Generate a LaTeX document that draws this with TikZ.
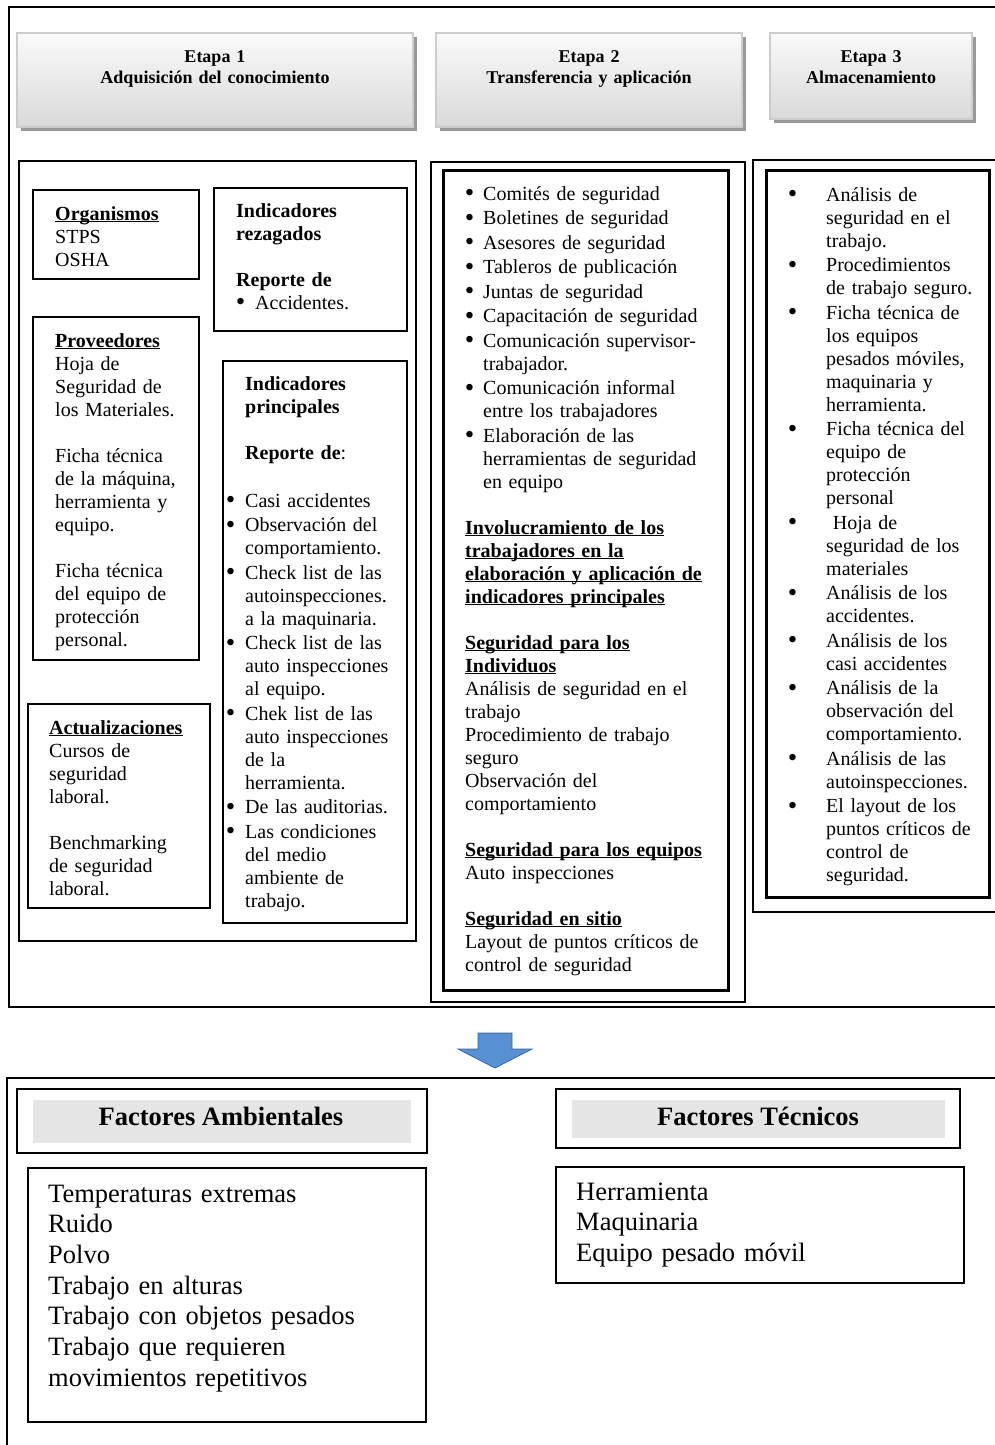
\documentclass[tikz,border=0pt]{standalone}
\usepackage{fontspec}
\setmainfont{Liberation Serif}
\usetikzlibrary{shadows}
\definecolor{arrowfill}{RGB}{88,144,212}
\definecolor{arrowline}{RGB}{58,100,160}
\newcommand\bodyf{\fontsize{20}{23}\selectfont}
\newcommand\headf{\fontsize{18}{20.5}\selectfont\bfseries}
\newcommand\bigf{\fontsize{26.5}{30.7}\selectfont}
\newcommand\myul[1]{\leavevmode\sbox0{#1}\rlap{\rule[-2.4pt]{\wd0}{1.1pt}}\usebox0}
\newcommand\mybu[1][10pt]{\leavevmode\llap{\raisebox{-1.8pt}{\scalebox{1.35}{\textbullet}}\hspace*{#1}}}
\begin{document}
\begin{tikzpicture}[x=1pt,y=-1pt,
  frame/.style={line width=1.8pt, draw=black},
  bx/.style={draw=black, line width=2.2pt, anchor=north west, inner sep=0pt, outer sep=0pt},
  thickbx/.style={bx, line width=3pt},
  outerbx/.style={bx, line width=1.6pt},
  thinbx/.style={bx, line width=1.3pt},
  hbox/.style={anchor=north west, inner sep=0pt, outer sep=0pt, draw=gray!40, line width=1.5pt,
    top color=gray!4, bottom color=gray!30,
    drop shadow={shadow xshift=4pt, shadow yshift=-4pt, fill=black!40, opacity=1}},
  headtxt/.style={anchor=base, inner sep=0pt, align=center, text width=#1, font=\headf},
  txt/.style={anchor=base west, inner sep=0pt, text width=300pt, align=left, font=\bodyf},
  bigtxt/.style={anchor=base west, inner sep=0pt, text width=400pt, align=left, font=\bigf},
  graybar/.style={anchor=north west, inner sep=0pt, outer sep=0pt, fill=black!10},
  bigtitle/.style={anchor=base, inner sep=0pt, font=\bigf\bfseries}]
\useasboundingbox (0,0) rectangle (995,1445);
\fill[white] (0,0) rectangle (995,1445);
\clip (0,0) rectangle (995,1445);

% ---------- top frame ----------
\draw[frame] (1000,7) -- (9,7) -- (9,1007) -- (1000,1007);

% ---------- stage headers ----------
\node[hbox, minimum width=396pt, minimum height=94pt] (h1) at (17,33) {};
\node[hbox, minimum width=306pt, minimum height=94pt] (h2) at (436,33) {};
\node[hbox, minimum width=202pt, minimum height=86pt] (h3) at (770,33) {};
\node[headtxt=390pt] (h1t) at (215,63) {Etapa 1\\Adquisición del conocimiento};
\node[headtxt=300pt] (h2t) at (589,63) {Etapa 2\\Transferencia y aplicación};
\node[headtxt=200pt] (h3t) at (871,63) {Etapa 3\\Almacenamiento};

% ---------- column 1 ----------
\node[outerbx, minimum width=397pt, minimum height=780pt] (c1) at (19,161) {};
\node[bx, minimum width=166pt, minimum height=89pt] (org) at (33,190) {};
\node[txt] (orgt) at (55,220) {\myul{\textbf{Organismos}}\\STPS\\OSHA};

\node[bx, minimum width=193pt, minimum height=143pt] (rez) at (214,188) {};
\node[txt] (rezt) at (236,217) {\textbf{Indicadores}\\\textbf{rezagados}\\[23pt]\textbf{Reporte de}};
\node[txt] (rezb) at (255,309) {\mybu Accidentes.};

\node[bx, minimum width=166pt, minimum height=343pt] (prov) at (33,317) {};
\node[txt] (provt) at (55,347) {\myul{\textbf{Proveedores}}\\Hoja de\\Seguridad de\\los Materiales.\\[23pt]
Ficha técnica\\de la máquina,\\herramienta y\\equipo.\\[23pt]
Ficha técnica\\del equipo de\\protección\\personal.};

\node[bx, minimum width=182pt, minimum height=204pt] (act) at (28,704) {};
\node[txt] (actt) at (49,734) {\myul{\textbf{Actualizaciones}}\\Cursos de\\seguridad\\laboral.\\[23pt]
Benchmarking\\de seguridad\\laboral.};

\node[bx, minimum width=184pt, minimum height=562pt] (pri) at (223,361) {};
\node[txt] (prit) at (245,390) {\textbf{Indicadores}\\\textbf{principales}\\[23pt]\textbf{Reporte de}:\\[25pt]
\mybu Casi accidentes\\[1.5pt]
\mybu Observación del\\comportamiento.\\[1.5pt]
\mybu Check list de las\\autoinspecciones.\\a la maquinaria.\\[1.5pt]
\mybu Check list de las\\auto inspecciones\\al equipo.\\[1.5pt]
\mybu Chek list de las\\auto inspecciones\\de la\\herramienta.\\[1.5pt]
\mybu De las auditorias.\\[1.5pt]
\mybu Las condiciones\\del medio\\ambiente de\\trabajo.};

% ---------- column 2 ----------
\node[outerbx, minimum width=314pt, minimum height=840pt] (c2) at (431,162) {};
\node[thickbx, minimum width=285pt, minimum height=820pt] (c2i) at (443,170) {};
\node[txt] (c2b) at (483,200) {\mybu[9pt]Comités de seguridad\\[1.5pt]
\mybu[9pt]Boletines de seguridad\\[1.5pt]
\mybu[9pt]Asesores de seguridad\\[1.5pt]
\mybu[9pt]Tableros de publicación\\[1.5pt]
\mybu[9pt]Juntas de seguridad\\[1.5pt]
\mybu[9pt]Capacitación de seguridad\\[1.5pt]
\mybu[9pt]Comunicación supervisor-\\trabajador.\\[1.5pt]
\mybu[9pt]Comunicación informal\\entre los trabajadores\\[1.5pt]
\mybu[9pt]Elaboración de las\\herramientas de seguridad\\en equipo};
\node[txt] (c2s) at (465,534) {\myul{\textbf{Involucramiento de los}}\\\myul{\textbf{trabajadores en la}}\\
\myul{\textbf{elaboración y aplicación de}}\\\myul{\textbf{indicadores principales}}\\[23pt]
\myul{\textbf{Seguridad para los}}\\\myul{\textbf{Individuos}}\\
Análisis de seguridad en el\\trabajo\\Procedimiento de trabajo\\seguro\\Observación del\\comportamiento\\[23pt]
\myul{\textbf{Seguridad para los equipos}}\\Auto inspecciones\\[23pt]
\myul{\textbf{Seguridad en sitio}}\\Layout de puntos críticos de\\control de seguridad};

% ---------- column 3 ----------
\node[outerbx, minimum width=260pt, minimum height=752pt] (c3) at (753,160) {};
\node[thickbx, minimum width=223pt, minimum height=727pt] (c3i) at (766,170) {};
\node[txt] (c3t) at (826,201) {\mybu[29pt]Análisis de\\seguridad en el\\trabajo.\\[1.5pt]
\mybu[29pt]Procedimientos\\de trabajo seguro.\\[1.5pt]
\mybu[29pt]Ficha técnica de\\los equipos\\pesados móviles,\\maquinaria y\\herramienta.\\[1.5pt]
\mybu[29pt]Ficha técnica del\\equipo de\\protección\\personal\\[1.5pt]
\mybu[29pt]\ Hoja de\\seguridad de los\\materiales\\[1.5pt]
\mybu[29pt]Análisis de los\\accidentes.\\[1.5pt]
\mybu[29pt]Análisis de los\\casi accidentes\\[1.5pt]
\mybu[29pt]Análisis de la\\observación del\\comportamiento.\\[1.5pt]
\mybu[29pt]Análisis de las\\autoinspecciones.\\[1.5pt]
\mybu[29pt]El layout de los\\puntos críticos de\\control de\\seguridad.};

% ---------- block arrow ----------
\coordinate (arrtop) at (495,1033);
\filldraw[fill=arrowfill, draw=arrowline, line width=0.8pt, line join=miter]
  (478,1033) -- (512,1033) -- (512,1049) -- (532,1049) -- (495,1068) -- (458,1049) -- (478,1049) -- cycle;

% ---------- bottom frame ----------
\draw[frame] (1000,1078) -- (7,1078) -- (7,1450);

\node[thinbx, line width=1.5pt, minimum width=410pt, minimum height=64pt] (fa) at (17,1089) {};
\node[graybar, minimum width=378pt, minimum height=43pt] (fabar) at (33,1100) {};
\node[bigtitle] (fat) at (221,1125) {Factores Ambientales};
\node[thinbx, minimum width=398pt, minimum height=254pt] (fab) at (28,1168) {};
\node[bigtxt] (fabt) at (48,1202) {Temperaturas extremas\\Ruido\\Polvo\\Trabajo en alturas\\Trabajo con objetos pesados\\Trabajo que requieren\\movimientos repetitivos};

\node[thinbx, line width=1.5pt, minimum width=404pt, minimum height=59pt] (ft) at (556,1089) {};
\node[graybar, minimum width=373pt, minimum height=38pt] (ftbar) at (572,1100) {};
\node[bigtitle] (ftt) at (758,1125) {Factores Técnicos};
\node[thinbx, minimum width=408pt, minimum height=116pt] (ftb) at (556,1167) {};
\node[bigtxt] (ftbt) at (576,1200) {Herramienta\\Maquinaria\\Equipo pesado móvil};
\end{tikzpicture}
\end{document}
